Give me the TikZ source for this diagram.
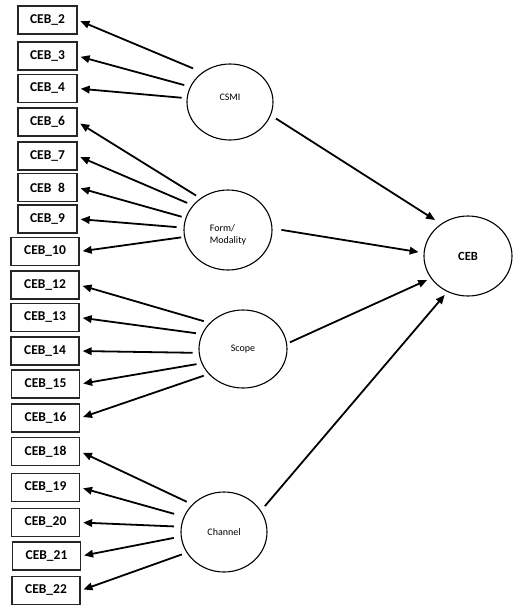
\documentclass[tikz,border=0pt]{standalone}
\usepackage{fontspec}
\setmainfont{Carlito}
\usetikzlibrary{shapes.geometric,arrows.meta}
\tikzset{
  item/.style={draw=black!85, line width=1.3pt, rectangle, minimum height=28pt, inner sep=0pt, font=\bfseries\fontsize{13.5}{15}\selectfont},
  itemA/.style={item, minimum width=59pt},
  itemB/.style={item, minimum width=68pt},
  latent/.style={draw, line width=1.1pt, ellipse, inner sep=0pt, font=\fontsize{10}{12}\selectfont},
  load/.style={line width=1.8pt, -{Triangle[length=9pt,width=7.5pt]}, shorten >=3pt},
  path/.style={line width=1.8pt, -{Triangle[length=9pt,width=7.5pt]}}
}
\begin{document}
\begin{tikzpicture}[x=1pt,y=-1pt]
\useasboundingbox (0,0) rectangle (520,614);
% indicator boxes
\node[itemA] (b2)  at (47.5,20)   {CEB\_2};
\node[itemA] (b3)  at (47.5,56)   {CEB\_3};
\node[itemA] (b4)  at (47.5,88.5) {CEB\_4};
\node[itemA] (b6)  at (47.5,122)  {CEB\_6};
\node[itemA] (b7)  at (47.5,156)  {CEB\_7};
\node[itemA] (b8)  at (47.5,187.5){CEB\hspace{0.5em}8};
\node[itemA] (b9)  at (47.5,219)  {CEB\_9};
\node[itemB] (b10) at (45,251.5)  {CEB\_10};
\node[itemB] (b12) at (45,285)    {CEB\_12};
\node[itemB] (b13) at (45,317.5)  {CEB\_13};
\node[itemB] (b14) at (45,351)    {CEB\_14};
\node[itemB] (b15) at (45.5,384)  {CEB\_15};
\node[itemB] (b16) at (45.5,418)  {CEB\_16};
\node[itemB] (b18) at (45.5,451.5){CEB\_18};
\node[itemB] (b19) at (45.5,487.5){CEB\_19};
\node[itemB] (b20) at (45.5,522.5){CEB\_20};
\node[itemB] (b21) at (46.5,556)  {CEB\_21};
\node[itemB] (b22) at (46,590.5)  {CEB\_22};
% latent ellipses
\node[latent, minimum width=86pt, minimum height=76pt,
      label={[yshift=5pt,font=\fontsize{10}{12}\selectfont]center:CSMI}] (csmi) at (230,102) {};
\node[latent, minimum width=88pt, minimum height=80pt,
      label={[yshift=-5pt,align=left,font=\fontsize{10}{12}\selectfont]center:Form/\\Modality}] (form) at (228,230) {};
\node[latent, minimum width=88pt, minimum height=78pt] (scope) at (243,349) {Scope};
\node[latent, minimum width=86pt, minimum height=80pt] (chan) at (224,532) {Channel};
\node[latent, minimum width=88pt, minimum height=80pt, font=\bfseries\fontsize{12.5}{14}\selectfont] (ceb) at (468,256) {CEB};
% loadings
\draw[load, shorten <=10pt] (csmi.133) -- (b2.east);
\draw[load, shorten <=6pt]  (csmi.159) -- (b3.east);
\draw[load, shorten <=5pt]  (csmi.175) -- (b4.east);
\draw[load, shorten <=5pt]  (form.131) -- (b6.east);
\draw[load, shorten <=6pt]  (form.145) -- (b7.east);
\draw[load, shorten <=4pt]  (form.164) -- (b8.east);
\draw[load, shorten <=7pt]  (form.177) -- (b9.east);
\draw[load, shorten <=3pt]  (form.189) -- (b10.east);
\draw[load, shorten <=6pt]  (scope.142) -- (b12.east);
\draw[load, shorten <=6pt]  (scope.160) -- (b13.east);
\draw[load, shorten <=6pt]  (scope.185) -- (b14.east);
\draw[load, shorten <=5pt]  (scope.199) -- (b15.east);
\draw[load, shorten <=5pt]  (scope.216) -- (b16.east);
\draw[load, shorten <=6pt]  (chan.139) -- (b18.east);
\draw[load, shorten <=10pt] (chan.159) -- (b19.east);
\draw[load, shorten <=7pt]  (chan.173) -- (b20.east);
\draw[load, shorten <=7pt]  (chan.186) -- (b21.east);
\draw[load, shorten <=5pt]  (chan.209) -- (b22.east);
% structural paths
\draw[path, shorten <=6pt, shorten >=7pt] (csmi.-18) -- (ceb.130);
\draw[path, shorten <=9pt, shorten >=5pt] (form.2) -- (ceb.176);
\draw[path, shorten <=3pt, shorten >=4pt] (scope.7) -- (ceb.211);
\draw[path, shorten <=6pt, shorten >=4pt] (chan.30) -- (ceb.240);
\end{tikzpicture}
\end{document}
